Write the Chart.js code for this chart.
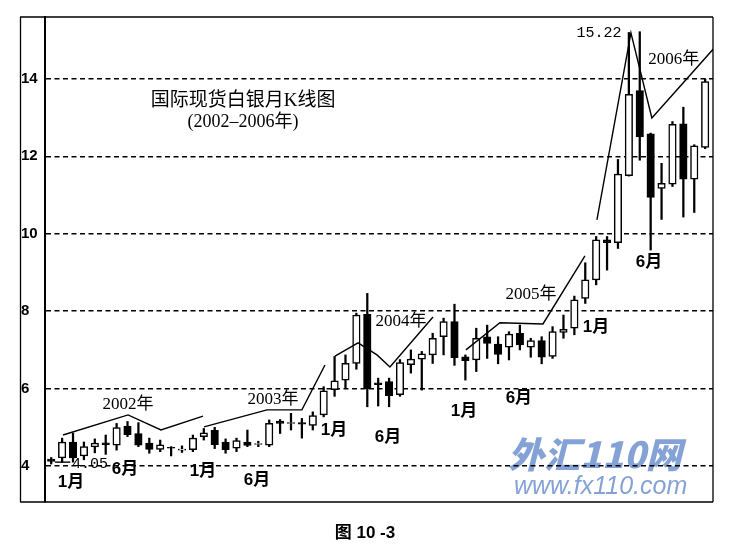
<!DOCTYPE html>
<html><head><meta charset="utf-8">
<script src="https://cdn.jsdelivr.net/npm/chart.js@4.4.1/dist/chart.umd.min.js"></script>
<style>html,body{margin:0;padding:0;background:#fff}#wrap{width:754px;height:550px;position:relative}</style>
</head><body><div id="wrap"><canvas id="c" width="754" height="550"></canvas></div>
<script>
// ---- data (monthly, Nov 2001 .. Nov 2006) ----
const months = ['2001-11','2001-12',
 '2002-01','2002-02','2002-03','2002-04','2002-05','2002-06','2002-07','2002-08','2002-09','2002-10','2002-11','2002-12',
 '2003-01','2003-02','2003-03','2003-04','2003-05','2003-06','2003-07','2003-08','2003-09','2003-10','2003-11','2003-12',
 '2004-01','2004-02','2004-03','2004-04','2004-05','2004-06','2004-07','2004-08','2004-09','2004-10','2004-11','2004-12',
 '2005-01','2005-02','2005-03','2005-04','2005-05','2005-06','2005-07','2005-08','2005-09','2005-10','2005-11','2005-12',
 '2006-01','2006-02','2006-03','2006-04','2006-05','2006-06','2006-07','2006-08','2006-09','2006-10','2006-11'];
const opens = [4.18,4.21,
 4.62,4.26,4.49,4.60,4.54,5.03,4.84,4.59,4.43,4.48,4.41,4.42,
 4.76,4.92,4.62,4.46,4.62,4.56,4.54,5.16,5.10,5.12,5.05,5.32,
 5.97,6.22,6.65,7.92,6.15,6.18,5.84,6.62,6.76,6.87,7.34,7.73,
 6.82,6.74,7.34,7.15,7.07,7.43,7.07,7.24,6.83,7.45,7.56,8.33,
 8.81,9.84,9.77,11.50,13.70,12.58,11.17,11.28,12.84,11.41,12.23];
const highs = [4.22,4.72,
 4.85,4.62,4.70,4.80,5.10,5.15,5.12,4.72,4.67,4.50,4.52,4.80,
 4.97,5.00,4.70,4.72,4.93,4.64,5.19,5.20,5.36,5.23,5.40,6.05,
 6.83,6.87,7.95,8.46,6.27,6.27,6.75,7.00,6.96,7.43,7.82,8.18,
 6.87,7.56,7.64,7.34,7.47,7.64,7.30,7.34,7.60,7.90,8.39,9.25,
 9.93,9.93,11.92,15.20,15.22,12.60,11.82,12.90,13.27,12.30,14.00];
const lows = [4.05,4.10,
 4.10,4.16,4.34,4.30,4.41,4.76,4.50,4.33,4.37,4.26,4.35,4.37,
 4.67,4.45,4.33,4.37,4.50,4.50,4.50,4.84,4.93,4.72,4.93,5.27,
 5.80,6.00,6.50,5.53,5.55,5.53,5.80,6.40,5.96,6.65,6.87,6.60,
 6.22,6.44,6.78,6.64,6.74,7.00,6.81,6.64,6.78,7.30,7.39,8.20,
 8.68,9.06,9.62,11.49,11.90,9.58,10.37,11.22,10.43,10.55,12.20];
const closes = [4.12,4.62,
 4.21,4.50,4.59,4.55,4.99,4.81,4.54,4.43,4.55,4.46,4.44,4.72,
 4.86,4.55,4.42,4.66,4.53,4.58,5.10,5.10,5.12,5.08,5.30,5.94,
 6.20,6.65,7.90,6.00,6.10,5.82,6.67,6.76,6.90,7.30,7.73,6.80,
 6.72,7.30,7.17,6.88,7.41,7.13,7.24,6.81,7.47,7.53,8.29,8.81,
 9.84,9.77,11.54,13.60,12.50,10.94,11.30,12.83,11.41,12.27,13.93];
const yTicks = [4,6,8,10,12,14];

// hand-drawn trend lines (x = month index, y = price)
const trend2002 = [[1.08,4.80],[7.05,5.32],[10.07,4.93],[13.93,5.29]];
const trend2003 = [[14.02,5.01],[19.8,5.45],[23.0,5.45],[25.12,6.61]];
const trend2004 = [[26.04,6.84],[28.15,7.18],[29.89,6.87],[31.08,6.56],[35.03,7.85]];
const trend2005 = [[38.05,7.00],[41.17,7.70],[45.12,7.67],[48.97,9.43]];
const trend2006 = [[50.07,10.36],[53.19,15.19],[55.11,12.99],[60.9,14.82]];
const leader405 = [[0.35,4.10],[1.75,4.10]];

// text notes anchored in data space
const monthNotes = [[1.82,3.59,'1月'],[6.77,3.92,'6月'],[13.93,3.87,'1月'],[18.88,3.64,'6月'],
  [25.94,4.93,'1月'],[30.9,4.75,'6月'],[37.87,5.40,'1月'],[42.91,5.76,'6月'],[49.98,7.59,'1月'],[54.84,9.27,'6月']];
const yearNotes = [[7.05,5.60,'2002年'],[20.35,5.71,'2003年'],[32.1,7.72,'2004年'],[44.02,8.44,'2005年'],[57.13,14.49,'2006年']];
const priceNotes = [[50.26,15.19,'15.22'],[3.56,4.05,'4.05']];
const titleLines = [[17.6,13.43,'国际现货白银月K线图'],[17.6,12.89,'(2002–2006年)']];

const bodies = opens.map((o,i)=>({x:i, y:[o, closes[i]]}));
const wicks = lows.map((l,i)=>({x:i, y:[l, highs[i]]}));
const toPts = a => a.map(p=>({x:p[0], y:p[1]}));
const lineDs = a => ({type:'line', data:toPts(a), borderColor:'#000', borderWidth:1.4, pointRadius:0, tension:0, fill:false, order:0});

const SERIF = '"Liberation Serif", "Noto Sans CJK SC", serif';
const decor = {
  id:'decor',
  beforeDraw(chart){
    const c = chart.ctx;
    c.save();
    c.fillStyle='#fff'; c.fillRect(0,0,chart.width,chart.height);
    c.fillStyle='rgba(120,152,210,0.9)';
    c.textAlign='left'; c.textBaseline='alphabetic';
    c.font='italic 900 36px "Noto Sans CJK SC", "Liberation Sans", sans-serif';
    c.fillText('外汇110网', 508, 468);
    c.font='italic 25px "Liberation Sans", sans-serif';
    c.fillText('www.fx110.com', 514, 494);
    c.restore();
  },
  afterDraw(chart){
    const c = chart.ctx, a = chart.chartArea, xs = chart.scales.x, ys = chart.scales.y;
    c.save();
    c.strokeStyle='#000'; c.lineWidth=1.3;
    c.beginPath();
    c.moveTo(20.5, a.top); c.lineTo(20.5, a.bottom);
    c.moveTo(20, a.top); c.lineTo(a.right, a.top);
    c.moveTo(a.right, a.top); c.lineTo(a.right, a.bottom);
    c.moveTo(20, a.bottom); c.lineTo(a.right, a.bottom);
    c.stroke();
    c.fillStyle='#000'; c.textAlign='center'; c.textBaseline='middle';
    c.font='bold 17px "Liberation Sans", "Noto Sans CJK SC", sans-serif';
    monthNotes.forEach(n=>c.fillText(n[2], xs.getPixelForValue(n[0]), ys.getPixelForValue(n[1])));
    c.font='17px '+SERIF;
    yearNotes.forEach(n=>c.fillText(n[2], xs.getPixelForValue(n[0]), ys.getPixelForValue(n[1])));
    c.font='15px "Liberation Mono", monospace';
    priceNotes.forEach(n=>c.fillText(n[2], xs.getPixelForValue(n[0]), ys.getPixelForValue(n[1])));
    c.font='19px '+SERIF;
    c.fillText(titleLines[0][2], xs.getPixelForValue(titleLines[0][0]), ys.getPixelForValue(titleLines[0][1]));
    c.font='18px '+SERIF;
    c.fillText(titleLines[1][2], xs.getPixelForValue(titleLines[1][0]), ys.getPixelForValue(titleLines[1][1]));
    c.font='bold 17px "Liberation Sans", "Noto Sans CJK SC", sans-serif';
    c.fillText('图 10 -3', 365, 533);
    c.restore();
  }
};

new Chart(document.getElementById('c'), {
  type:'bar',
  data:{
    labels: months,
    datasets:[
      {type:'bar', label:'body', data:bodies, grouped:false, order:1, barThickness:7.5,
       borderSkipped:false, borderWidth:1.5, borderColor:'#000',
       backgroundColor: ctx => closes[ctx.dataIndex] >= opens[ctx.dataIndex] ? '#fff' : '#000'},
      {type:'bar', label:'wick', data:wicks, grouped:false, order:2, barThickness:1.6,
       borderWidth:0, backgroundColor:'#000'},
      lineDs(trend2002), lineDs(trend2003), lineDs(trend2004), lineDs(trend2005), lineDs(trend2006),
      lineDs(leader405)
    ]
  },
  options:{
    responsive:false, animation:false,
    layout:{padding:{left:21, right:41, top:17, bottom:48}},
    plugins:{legend:{display:false}, tooltip:{enabled:false}, title:{display:false}},
    scales:{
      x:{type:'linear', display:false, offset:false, min:-0.57, max:60.72, grid:{offset:false}},
      y:{type:'linear', min:3.07, max:15.6,
         afterBuildTicks: s => { s.ticks = yTicks.map(v=>({value:v})); },
         afterFit: s => { s.width = 24; s.paddingTop = 0; s.paddingBottom = 0; },
         ticks:{crossAlign:'far', padding:0, color:'#000', font:{family:'"Liberation Sans", sans-serif', size:15, weight:'bold'}},
         grid:{color:'#000', lineWidth:1.5, drawTicks:false},
         border:{display:true, color:'#000', width:2, dash:[5,3.5]}
      }
    }
  },
  plugins:[decor]
});
</script>
</body></html>
